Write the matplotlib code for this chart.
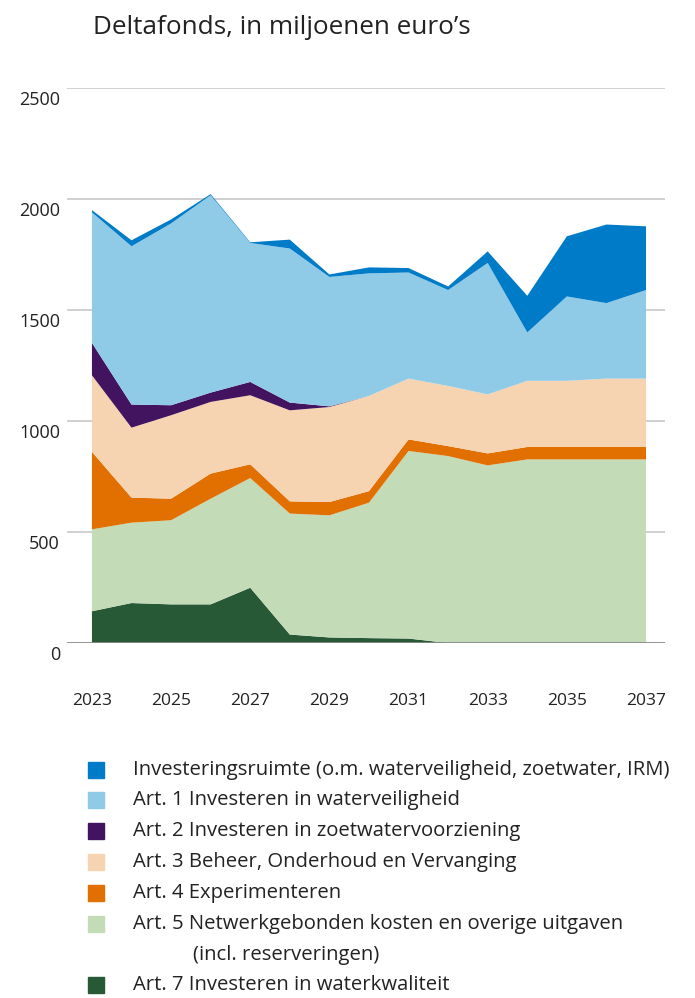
import matplotlib
matplotlib.use("Agg")
import matplotlib.pyplot as plt
import matplotlib.transforms as mtransforms
from matplotlib.patches import Rectangle
import numpy as np

plt.rcParams['font.family'] = ['Open Sans', 'DejaVu Sans']

years = list(range(2023, 2038))
art7 = [143, 180, 174, 174, 249, 38, 25, 22, 20, 0, 0, 0, 0, 0, 0]
art5 = [369, 362, 379, 476, 494, 545, 550, 610, 845, 842, 800, 827, 827, 827, 827]
art4 = [349, 113, 97, 113, 62, 55, 60, 52, 52, 45, 54, 56, 56, 56, 56]
art3 = [345, 315, 376, 323, 311, 410, 428, 429, 274, 271, 266, 298, 298, 308, 308]
art2 = [146, 104, 45, 42, 60, 35, 3, 0, 0, 0, 0, 0, 0, 0, 0]
art1 = [588, 713, 819, 889, 626, 694, 583, 552, 478, 432, 592, 218, 380, 340, 399]
invest = [10, 27, 18, 5, 3, 40, 11, 27, 20, 16, 52, 165, 271, 354, 287]

series_labels = [
    "Investeringsruimte (o.m. waterveiligheid, zoetwater, IRM)",
    "Art. 1 Investeren in waterveiligheid",
    "Art. 2 Investeren in zoetwatervoorziening",
    "Art. 3 Beheer, Onderhoud en Vervanging",
    "Art. 4 Experimenteren",
    "Art. 5 Netwerkgebonden kosten en overige uitgaven\n(incl. reserveringen)",
    "Art. 7 Investeren in waterkwaliteit",
]
colors = ["#007BC7", "#8FCAE7", "#42145F", "#F6D4B2", "#E17000", "#C3DBB6", "#275937"]

yticks = [0, 500, 1000, 1500, 2000, 2500]
xticks = [2023, 2025, 2027, 2029, 2031, 2033, 2035, 2037]

W, H = 695, 998
fig = plt.figure(figsize=(W / 100, H / 100), dpi=100)
ax = fig.add_axes([67 / W, 1 - 643 / H, (665 - 67) / W, (643 - 88) / H])

stack = [art7, art5, art4, art3, art2, art1, invest]
stack_colors = colors[::-1]
ax.stackplot(years, *stack, colors=stack_colors, linewidth=0, zorder=2)

ax.set_xlim(2022.37, 2037.48)
ax.set_ylim(0, 2500)
for s in ax.spines.values():
    s.set_visible(False)
for v in yticks[1:]:
    ax.axhline(v, color="#C8C8C8", lw=1.2, zorder=1)
ax.axhline(0, color="#8A8A8A", lw=2, zorder=3)

txtcol = "#222222"
ax.set_yticks(yticks)
ax.set_yticklabels([str(v) for v in yticks], fontsize=13, color=txtcol)
ax.tick_params(axis="y", length=0, pad=5)
off = mtransforms.ScaledTranslation(0, -10 / 100, fig.dpi_scale_trans)
for lab in ax.get_yticklabels():
    lab.set_transform(lab.get_transform() + off)

ax.set_xticks(xticks)
ax.set_xticklabels([str(v) for v in xticks], fontsize=12.5, color=txtcol)
ax.tick_params(axis="x", length=0, pad=36)

fig.text(93 / W, 1 - 27 / H, "Deltafonds, in miljoenen euro\u2019s", fontsize=18.8,
         color=txtcol, va="center", ha="left")

rows_y = [770, 800, 831, 862, 893, 924, 985]
fs_leg = 14.6
for lab, col, yy in zip(series_labels, colors, rows_y):
    fig.patches.append(Rectangle((88 / W, 1 - (yy + 8) / H), 16 / W, 16 / H,
                                 transform=fig.transFigure, color=col, figure=fig))
    if "\n" in lab:
        first, second = lab.split("\n")
        fig.text(133 / W, 1 - yy / H, first, fontsize=fs_leg, color=txtcol, va="center")
        fig.text(193 / W, 1 - (yy + 31) / H, second, fontsize=fs_leg, color=txtcol, va="center")
    else:
        fig.text(133 / W, 1 - yy / H, lab, fontsize=fs_leg, color=txtcol, va="center")

fig.savefig("out.png", dpi=100)
